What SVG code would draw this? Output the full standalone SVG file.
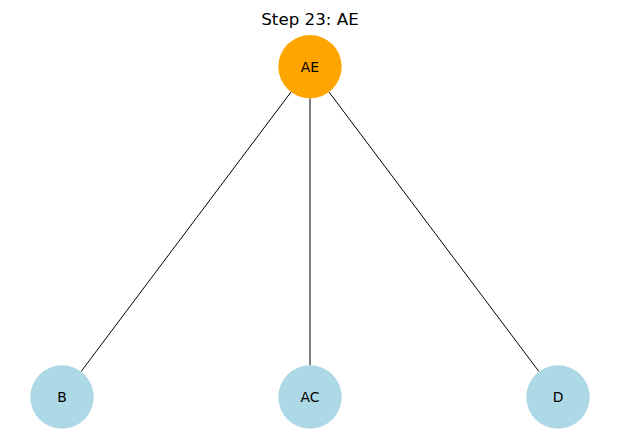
<svg xmlns="http://www.w3.org/2000/svg" width="619" height="442" viewBox="0 0 619 442">
<style>
.edge{stroke:#000;stroke-width:1;fill:none}
.n{stroke:none}
.lbl{font-family:"DejaVu Sans",sans-serif;font-size:13.9px;text-anchor:middle;fill:#000}
.title{font-family:"DejaVu Sans",sans-serif;font-size:16.7px;text-anchor:middle;fill:#000}
</style>
<rect width="619" height="442" fill="#fff"/>
<text class="title" x="310" y="24.5">Step 23: AE</text>
<g id="edges">
<line class="edge" x1="291" y1="92" x2="81" y2="371.6"/>
<line class="edge" x1="310" y1="98.4" x2="310" y2="365.3"/>
<line class="edge" x1="329" y1="92" x2="539" y2="371.6"/>
</g>
<g id="AE"><circle class="n" cx="310" cy="66.7" r="31.7" fill="#FFA500"/><text class="lbl" x="310" y="71.5">AE</text></g>
<g id="B"><circle class="n" cx="62" cy="397" r="31.7" fill="#ADD8E6"/><text class="lbl" x="62" y="402">B</text></g>
<g id="AC"><circle class="n" cx="310" cy="397" r="31.7" fill="#ADD8E6"/><text class="lbl" x="310" y="402">AC</text></g>
<g id="D"><circle class="n" cx="558" cy="397" r="31.7" fill="#ADD8E6"/><text class="lbl" x="558" y="402">D</text></g>
</svg>
